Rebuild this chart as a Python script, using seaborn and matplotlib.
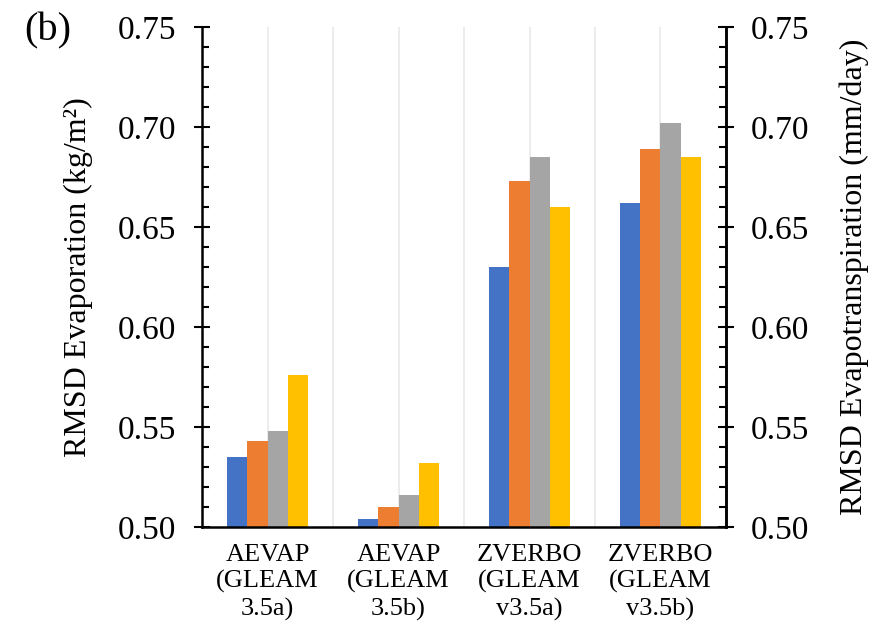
import numpy as np
import pandas as pd
import matplotlib
matplotlib.use("Agg")
import matplotlib.pyplot as plt
import seaborn as sns
from matplotlib.ticker import MultipleLocator, FormatStrFormatter

# data
products = ["AEVAP\n(GLEAM\n3.5a)", "AEVAP\n(GLEAM\n3.5b)",
            "ZVERBO\n(GLEAM\nv3.5a)", "ZVERBO\n(GLEAM\nv3.5b)"]
series = ["Series 1", "Series 2", "Series 3", "Series 4"]
s1 = [0.535, 0.504, 0.630, 0.662]
s2 = [0.543, 0.510, 0.673, 0.689]
s3 = [0.548, 0.516, 0.685, 0.702]
s4 = [0.576, 0.532, 0.660, 0.685]
colors = ["#4472C4", "#ED7D31", "#A5A5A5", "#FFC000"]

df = pd.DataFrame({
    "product": products * 4,
    "series": np.repeat(series, 4),
    "rmsd": s1 + s2 + s3 + s4,
})

sns.set_style("white")
plt.rcParams["font.family"] = ["Liberation Serif", "DejaVu Serif"]
plt.rcParams["text.color"] = "black"
plt.rcParams["axes.labelcolor"] = "black"
plt.rcParams["xtick.color"] = "black"
plt.rcParams["ytick.color"] = "black"

fig = plt.figure(figsize=(8.71, 6.27), dpi=100)
ax = fig.add_axes([0.232, 0.1595, 0.6015, 0.7974])

sns.barplot(data=df, x="product", y="rmsd", hue="series", palette=colors,
            width=0.62, gap=0, saturation=1, linewidth=0,
            legend=False, ax=ax, zorder=2)

ax.set_xlim(-0.5, 3.5)
ax.set_ylim(0.50, 0.75)
ax.yaxis.set_major_locator(MultipleLocator(0.05))
ax.yaxis.set_minor_locator(MultipleLocator(0.01))
ax.yaxis.set_major_formatter(FormatStrFormatter("%.2f"))
ax.xaxis.set_minor_locator(MultipleLocator(0.5))
ax.grid(axis="x", which="both", color="#ebebeb", linewidth=1.3, zorder=0)
ax.set_axisbelow(True)

ax.set_xlabel("")
ax.set_ylabel("RMSD Evaporation (kg/m²)", fontsize=23, labelpad=18)
ax.tick_params(axis="x", which="both", length=0, labelsize=19, pad=12)
for lbl in ax.get_xticklabels():
    lbl.set_linespacing(1.25)
ax.tick_params(axis="y", which="major", direction="inout", length=11,
               width=1.5, labelsize=24, pad=13)
ax.tick_params(axis="y", which="minor", direction="in", length=5, width=1.5)

for side in ["left", "bottom", "right"]:
    ax.spines[side].set_color("black")
    ax.spines[side].set_linewidth(1.8)
ax.spines["top"].set_visible(False)

ax2 = ax.twinx()
ax2.set_ylim(0.50, 0.75)
ax2.yaxis.set_major_locator(MultipleLocator(0.05))
ax2.yaxis.set_minor_locator(MultipleLocator(0.01))
ax2.yaxis.set_major_formatter(FormatStrFormatter("%.2f"))
ax2.set_ylabel("RMSD Evapotranspiration (mm/day)", fontsize=23, labelpad=22)
ax2.tick_params(axis="y", which="major", direction="inout", length=11,
                width=1.5, labelsize=24, pad=12)
ax2.tick_params(axis="y", which="minor", direction="in", length=5, width=1.5)
for side in ["top", "left", "bottom"]:
    ax2.spines[side].set_visible(False)
ax2.spines["right"].set_color("black")
ax2.spines["right"].set_linewidth(1.8)

fig.text(0.028, 0.935, "(b)", fontsize=29)

fig.savefig("out.png", dpi=100)
